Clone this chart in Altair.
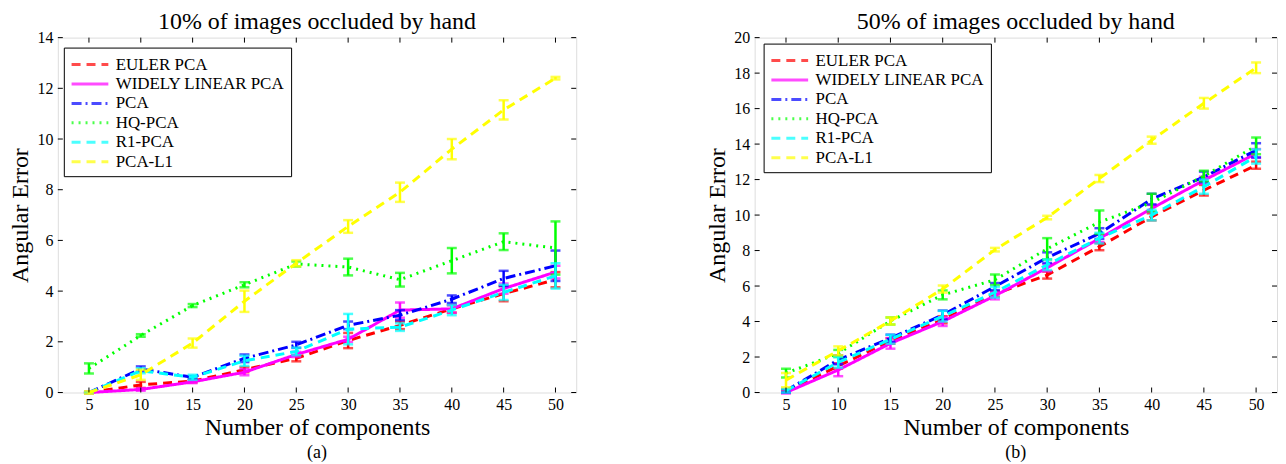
import altair as alt
import pandas as pd

# ---------------- data ----------------
components = [5, 10, 15, 20, 25, 30, 35, 40, 45, 50]
methods = ["EULER PCA", "WIDELY LINEAR PCA", "PCA", "HQ-PCA", "R1-PCA", "PCA-L1"]
colors = ["#FF0000", "#FF00FF", "#0000FF", "#00FF00", "#00FFFF", "#FFFF00"]
dashes = [[9, 6], [1, 0], [10, 4, 2, 4], [2, 5], [9, 6], [9, 6]]

# 10% occlusion
a_euler = [0.0, 0.3, 0.45, 0.9, 1.35, 2.05, 2.65, 3.3, 3.9, 4.45]
a_widely = [0.0, 0.12, 0.42, 0.8, 1.5, 2.1, 3.25, 3.3, 4.1, 4.75]
a_pca = [0.0, 0.93, 0.6, 1.35, 1.88, 2.65, 3.05, 3.68, 4.5, 5.0]
a_hq = [0.95, 2.25, 3.43, 4.25, 5.07, 4.95, 4.45, 5.2, 5.95, 5.7]
a_r1 = [0.0, 0.86, 0.6, 1.25, 1.62, 2.5, 2.58, 3.25, 3.95, 4.6]
a_l1 = [0.0, 0.7, 1.95, 3.6, 5.1, 6.55, 7.9, 9.6, 11.15, 12.4]

a_euler_err = [0.02, 0.12, 0.05, 0.1, 0.12, 0.3, 0.15, 0.15, 0.3, 0.3]
a_widely_err = [0.02, 0.05, 0.05, 0.12, 0.1, 0.1, 0.3, 0.15, 0.2, 0.25]
a_pca_err = [0.02, 0.1, 0.05, 0.15, 0.12, 0.15, 0.2, 0.15, 0.3, 0.6]
a_hq_err = [0.2, 0.05, 0.06, 0.1, 0.1, 0.33, 0.27, 0.5, 0.33, 1.05]
a_r1_err = [0.02, 0.1, 0.1, 0.2, 0.15, 0.6, 0.15, 0.2, 0.3, 0.5]
a_l1_err = [0.05, 0.2, 0.18, 0.42, 0.12, 0.25, 0.38, 0.4, 0.38, 0.05]

# 50% occlusion
b_euler = [0.05, 1.5, 2.9, 4.1, 5.55, 6.62, 8.22, 9.9, 11.4, 12.81]
b_widely = [0.0, 1.27, 2.77, 4.0, 5.45, 7.03, 8.68, 10.37, 11.96, 13.47]
b_pca = [0.1, 1.84, 3.06, 4.37, 5.97, 7.6, 8.96, 10.9, 12.15, 13.65]
b_hq = [1.09, 2.2, 4.03, 5.5, 6.35, 8.1, 9.6, 10.7, 12.2, 13.9]
b_r1 = [0.1, 1.7, 3.0, 4.3, 5.65, 7.2, 8.7, 10.0, 11.6, 13.3]
b_l1 = [0.7, 2.35, 4.03, 5.83, 8.05, 9.86, 12.06, 14.22, 16.3, 18.3]

b_euler_err = [0.05, 0.15, 0.15, 0.2, 0.15, 0.2, 0.2, 0.2, 0.3, 0.2]
b_widely_err = [0.05, 0.35, 0.3, 0.25, 0.2, 0.2, 0.2, 0.2, 0.2, 0.25]
b_pca_err = [0.1, 0.25, 0.2, 0.25, 0.2, 0.3, 0.3, 0.3, 0.3, 0.4]
b_hq_err = [0.25, 0.2, 0.2, 0.25, 0.3, 0.6, 0.66, 0.5, 0.3, 0.47]
b_r1_err = [0.1, 0.3, 0.25, 0.3, 0.3, 0.3, 0.3, 0.3, 0.4, 0.4]
b_l1_err = [0.4, 0.25, 0.2, 0.2, 0.1, 0.1, 0.2, 0.2, 0.3, 0.3]

x_ticks = [5, 10, 15, 20, 25, 30, 35, 40, 45, 50]
a_y_ticks = [0, 2, 4, 6, 8, 10, 12, 14]
b_y_ticks = [0, 2, 4, 6, 8, 10, 12, 14, 16, 18, 20]

FONT = "Liberation Serif"


def long_frame(vals, errs):
    rows = []
    for m, v, e in zip(methods, vals, errs):
        for x, yv, ye in zip(components, v, e):
            rows.append({"x": x, "value": yv, "lo": yv - ye, "hi": yv + ye, "method": m})
    return pd.DataFrame(rows)


def panel(vals, errs, yticks, title, tag, W, H, leg_x, leg_y):
    df = long_frame(vals, errs)
    xs = alt.Scale(domain=[2, 52], nice=False, zero=False)
    ys = alt.Scale(domain=[yticks[0], yticks[-1]], nice=False)
    cscale = alt.Scale(domain=methods, range=colors)
    dscale = alt.Scale(domain=methods, range=dashes)
    leg = alt.Legend(
        title=None, orient="none", legendX=leg_x, legendY=leg_y, strokeColor="black",
        fillColor="white", padding=6, labelFont=FONT, labelFontSize=17,
        labelColor="black", symbolType="M-1,0H3", symbolStrokeWidth=3,
        symbolSize=340, rowPadding=0.5, labelOffset=24, labelLimit=400,
    )
    x_axis = alt.Axis(
        values=x_ticks, ticks=False, domain=False, grid=False, labelFont=FONT,
        labelFontSize=16, labelColor="black", labelPadding=4, labelOverlap=False,
        title="Number of components", titleFont=FONT, titleFontSize=24,
        titleFontWeight="normal", titleColor="black", titlePadding=3)
    y_axis = alt.Axis(
        values=yticks, ticks=False, domain=False, grid=False, labelFont=FONT,
        labelFontSize=16, labelColor="black", labelPadding=5, labelOverlap=False,
        title="Angular Error", titleFont=FONT, titleFontSize=24,
        titleFontWeight="normal", titleColor="black", titlePadding=4)

    def X(f):
        return alt.X(f, scale=xs, axis=x_axis)

    def Y(f):
        return alt.Y(f, scale=ys, axis=y_axis)

    def C():
        return alt.Color("method:N", scale=cscale, legend=leg)

    layers = []
    for m in methods:
        sub = alt.Chart(df).transform_filter(alt.datum.method == m)
        line = sub.mark_line(strokeWidth=3).encode(
            x=X("x:Q"), y=Y("value:Q"), color=C(),
            strokeDash=alt.StrokeDash("method:N", scale=dscale, legend=leg),
        )
        bar = sub.mark_rule(strokeWidth=2.5).encode(
            x=X("x:Q"), y=Y("lo:Q"), y2="hi:Q", color=C())
        cap_lo = sub.mark_tick(orient="horizontal", size=10, thickness=2.5).encode(
            x=X("x:Q"), y=Y("lo:Q"), color=C())
        cap_hi = sub.mark_tick(orient="horizontal", size=10, thickness=2.5).encode(
            x=X("x:Q"), y=Y("hi:Q"), color=C())
        layers += [line, bar, cap_lo, cap_hi]

    xt = pd.DataFrame({"t": x_ticks})
    yt = pd.DataFrame({"t": yticks})
    tk_bottom = alt.Chart(xt).mark_rule(color="black", strokeWidth=1).encode(
        x=X("t:Q"), y=alt.value(H), y2=alt.value(H - 5))
    tk_top = alt.Chart(xt).mark_rule(color="black", strokeWidth=1).encode(
        x=X("t:Q"), y=alt.value(0), y2=alt.value(5))
    tk_left = alt.Chart(yt).mark_rule(color="black", strokeWidth=1).encode(
        y=Y("t:Q"), x=alt.value(0), x2=alt.value(5))
    tk_right = alt.Chart(yt).mark_rule(color="black", strokeWidth=1).encode(
        y=Y("t:Q"), x=alt.value(W), x2=alt.value(W - 5))
    tag_txt = alt.Chart(pd.DataFrame({"s": [tag]})).mark_text(
        font=FONT, fontSize=18, color="black", baseline="middle").encode(
        text="s:N", x=alt.value(W / 2), y=alt.value(H + 61))

    return alt.layer(*layers, tk_bottom, tk_top, tk_left, tk_right, tag_txt).properties(
        width=W, height=H,
        title=alt.TitleParams(title, font=FONT, fontSize=24, fontWeight="normal",
                              color="black", anchor="middle", offset=-4),
    )


left = panel([a_euler, a_widely, a_pca, a_hq, a_r1, a_l1],
             [a_euler_err, a_widely_err, a_pca_err, a_hq_err, a_r1_err, a_l1_err],
             a_y_ticks, "10% of images occluded by hand", "(a)", 520, 356, 6, 10)
right = panel([b_euler, b_widely, b_pca, b_hq, b_r1, b_l1],
              [b_euler_err, b_widely_err, b_pca_err, b_hq_err, b_r1_err, b_l1_err],
              b_y_ticks, "50% of images occluded by hand", "(b)", 524, 356, 9, 6)

chart = alt.hconcat(left, right, spacing=128).resolve_scale(
    color="independent", strokeDash="independent", x="independent", y="independent"
).resolve_legend(color="independent", strokeDash="independent").properties(
    padding={"left": 0, "top": 0, "right": 0, "bottom": 0}
).configure_view(stroke="black", strokeWidth=1).configure_axis(
    labelFont=FONT, titleFont=FONT
).configure_legend(labelFont=FONT).configure(background="white")

chart.save("out.html", embed_options={"renderer": "svg", "actions": False})
